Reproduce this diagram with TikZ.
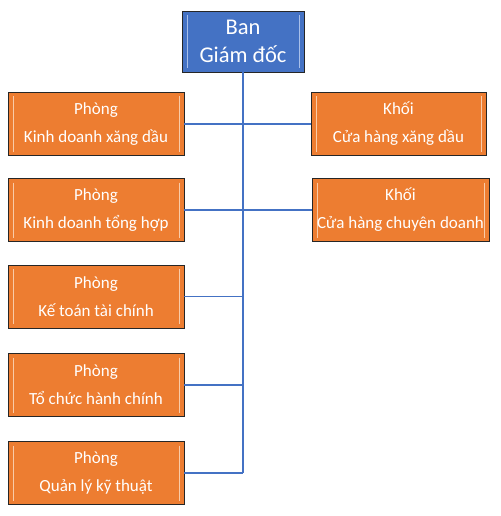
\documentclass[tikz,border=0pt]{standalone}
\usepackage{fontspec}
\setmainfont{Carlito}
\definecolor{orangebox}{HTML}{ED7D31}
\definecolor{orangelight}{HTML}{F9CBA8}
\definecolor{bluebox}{HTML}{4472C4}
\definecolor{bluelight}{HTML}{A9C0EA}
\definecolor{linkblue}{HTML}{4472C4}
\begin{document}
\begin{tikzpicture}[x=1pt,y=-1pt,
  bevel/.style={path picture={
      \draw[#1,line width=1pt]
        ([xshift=5pt,yshift=-4pt]path picture bounding box.north west) --
        ([xshift=5pt,yshift=4pt]path picture bounding box.south west);
      \draw[#1,line width=1pt]
        ([xshift=-5pt,yshift=-4pt]path picture bounding box.north east) --
        ([xshift=-5pt,yshift=4pt]path picture bounding box.south east);
  }},
  dept/.style={draw=black!85,line width=0.9pt,fill=orangebox,bevel=orangelight,
    text=white,align=center,inner sep=0pt,minimum height=63pt,
    font=\fontsize{17}{28}\selectfont},
  boss/.style={draw=black!85,line width=0.9pt,fill=bluebox,bevel=bluelight,
    text=white,align=center,inner sep=0pt,minimum width=122pt,minimum height=61pt,
    font=\fontsize{22.5}{28}\selectfont},
  link/.style={draw=linkblue,line width=1.3pt}]
\useasboundingbox[fill=white] (0,0) rectangle (500,516);

\node[boss] (top) at (243,41.5) {Ban\\Giám đốc};

\node[dept,minimum width=176pt] (l1) at (96,124) {Phòng\\Kinh doanh xăng dầu};
\node[dept,minimum width=176pt] (l2) at (96,210) {Phòng\\Kinh doanh tổng hợp};
\node[dept,minimum width=176pt] (l3) at (96,296.5) {Phòng\\Kế toán tài chính};
\node[dept,minimum width=176pt] (l4) at (96,385) {Phòng\\Tổ chức hành chính};
\node[dept,minimum width=176pt] (l5) at (96,473) {Phòng\\Quản lý kỹ thuật};

\node[dept,minimum width=175pt] (r1) at (398.5,124) {Khối\\Cửa hàng xăng dầu};
\node[dept,minimum width=177pt] (r2) at (400.5,210) {Khối\\Cửa hàng chuyên doanh};

\coordinate (trunkend) at (top.south |- l5.east);

\draw[link] (top.south) -- (trunkend);
\draw[link] (l1.east) -- (l1.east -| top.south);
\draw[link] (l2.east) -- (l2.east -| top.south);
\draw[link] (l3.east) -- (l3.east -| top.south);
\draw[link] (l4.east) -- (l4.east -| top.south);
\draw[link] (l5.east) -- (trunkend);
\draw[link] (r1.west) -- (r1.west -| top.south);
\draw[link] (r2.west) -- (r2.west -| top.south);
\end{tikzpicture}
\end{document}
